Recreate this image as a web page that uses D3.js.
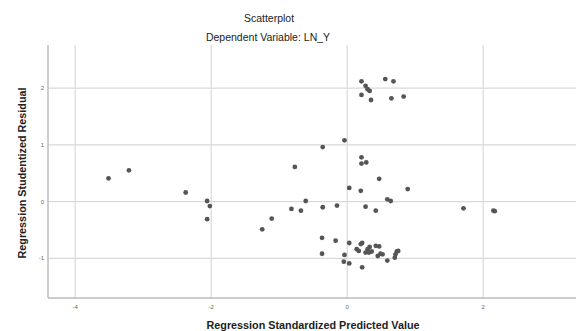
<!DOCTYPE html>
<html>
<head>
<meta charset="utf-8">
<script src="https://cdn.jsdelivr.net/npm/d3@7"></script>
<style>
  body { margin: 0; background: #fff; }
  svg { display: block; font-family: "Liberation Sans", Arial, sans-serif; }
</style>
</head>
<body>
<div id="chart"></div>
<script>
// Chart data.
const predicted = [
  -3.51, -3.21, -2.375, -2.06, -2.02, -2.06, -1.25, -1.11, -0.77, -0.82, -0.68, -0.61,
  -0.36, -0.36, -0.15, -0.04, 0.21, 0.21, 0.28, 0.47, 0.03, 0.20, 0.89, 0.59, 0.64,
  0.27, 0.42,
  0.21, 0.27, 0.30, 0.33, 0.56, 0.68, 0.21, 0.35, 0.65, 0.83,
  -0.37, -0.17, -0.37, 0.03, -0.04, -0.05, 0.03, 0.22, 0.14, 0.20, 0.17, 0.22, 0.27,
  0.30, 0.33, 0.32, 0.36, 0.42, 0.47, 0.45, 0.49, 0.52, 0.59, 0.70, 0.71, 0.73, 0.75,
  1.71, 2.15, 2.17
];
const residual = [
  0.41, 0.55, 0.16, 0.01, -0.08, -0.31, -0.49, -0.30, 0.61, -0.13, -0.16, 0.01,
  0.96, -0.10, -0.07, 1.08, 0.78, 0.67, 0.69, 0.40, 0.24, 0.19, 0.22, 0.04, 0.01,
  -0.09, -0.16,
  2.12, 2.04, 1.98, 1.95, 2.16, 2.12, 1.88, 1.79, 1.82, 1.85,
  -0.64, -0.69, -0.92, -0.73, -0.94, -1.06, -1.09, -1.16, -0.84, -0.75, -0.87, -0.73, -0.90,
  -0.84, -0.80, -0.90, -0.88, -0.78, -0.79, -0.96, -0.92, -0.93, -1.04, -0.99, -0.93, -0.88, -0.87,
  -0.12, -0.16, -0.17
];
const xTicks = [-4, -2, 0, 2];
const yTicks = [-1, 0, 1, 2];
const xTickLabels = ["-4", "-2", "0", "2"];
const yTickLabels = ["-1", "0", "1", "2"];
const chartTitle = "Scatterplot";
const chartSubtitle = "Dependent Variable: LN_Y";
const xTitle = "Regression Standardized Predicted Value";
const yTitle = "Regression Studentized Residual";

/**
 * Layout.
 */
const width = 576, height = 331;
const plot = { left: 48, right: 592, top: 45, bottom: 298 };
const pointRadius = 2.4;

const svg = d3.select("#chart")
  .append("svg")
    .attr("width", width)
    .attr("height", height);

const x = d3.scaleLinear().domain([-4.4, 3.6]).range([plot.left, plot.right]);
const y = d3.scaleLinear().domain([-1.7, 2.76]).range([plot.bottom, plot.top]);

// titles
svg.append("text")
  .attr("x", 269).attr("y", 22)
  .attr("text-anchor", "middle")
  .style("font-size", "10.5px")
  .style("fill", "#222")
  .text(chartTitle);

svg.append("text")
  .attr("x", 268).attr("y", 41)
  .attr("text-anchor", "middle")
  .style("font-size", "10.5px")
  .style("fill", "#222")
  .text(chartSubtitle);

// grid
const grid = svg.append("g").attr("class", "grid");
grid.selectAll(".vgrid")
  .data(xTicks)
  .enter().append("line")
    .attr("x1", d => x(d)).attr("x2", d => x(d))
    .attr("y1", plot.top).attr("y2", plot.bottom)
    .style("stroke", "#d9d9d9")
    .style("stroke-width", 1.2);
grid.selectAll(".hgrid")
  .data(yTicks)
  .enter().append("line")
    .attr("x1", plot.left).attr("x2", width)
    .attr("y1", d => y(d)).attr("y2", d => y(d))
    .style("stroke", "#d9d9d9")
    .style("stroke-width", 1.2);

// axes lines
svg.append("line")
  .attr("x1", plot.left).attr("x2", plot.left)
  .attr("y1", plot.top).attr("y2", plot.bottom)
  .style("stroke", "#bdbdbd").style("stroke-width", 1.5);
svg.append("line")
  .attr("x1", plot.left).attr("x2", width)
  .attr("y1", plot.bottom).attr("y2", plot.bottom)
  .style("stroke", "#bdbdbd").style("stroke-width", 1.5);

// tick labels
svg.append("g")
  .selectAll("text")
  .data(xTicks)
  .enter().append("text")
    .attr("x", d => x(d))
    .attr("y", 309)
    .attr("text-anchor", "middle")
    .style("font-size", "6px")
    .style("fill", "#666")
    .text((d, i) => xTickLabels[i]);

svg.append("g")
  .selectAll("text")
  .data(yTicks)
  .enter().append("text")
    .attr("x", 44)
    .attr("y", d => y(d) + 2)
    .attr("text-anchor", "end")
    .style("font-size", "6px")
    .style("fill", "#666")
    .text((d, i) => yTickLabels[i]);

// axis titles
svg.append("text")
  .attr("x", 313).attr("y", 329)
  .attr("text-anchor", "middle")
  .style("font-size", "10.8px")
  .style("font-weight", "bold")
  .style("fill", "#222")
  .text(xTitle);

svg.append("text")
  .attr("transform", "translate(26,173) rotate(-90)")
  .attr("text-anchor", "middle")
  .style("font-size", "10.8px")
  .style("font-weight", "bold")
  .style("fill", "#222")
  .text(yTitle);

// points
svg.append("g")
  .attr("class", "points")
  .selectAll("circle")
  .data(predicted.map((p, i) => ({ p, r: residual[i] })))
  .enter().append("circle")
    .attr("cx", d => x(d.p))
    .attr("cy", d => y(d.r))
    .attr("r", pointRadius)
    .style("fill", "#555");
</script>
</body>
</html>
